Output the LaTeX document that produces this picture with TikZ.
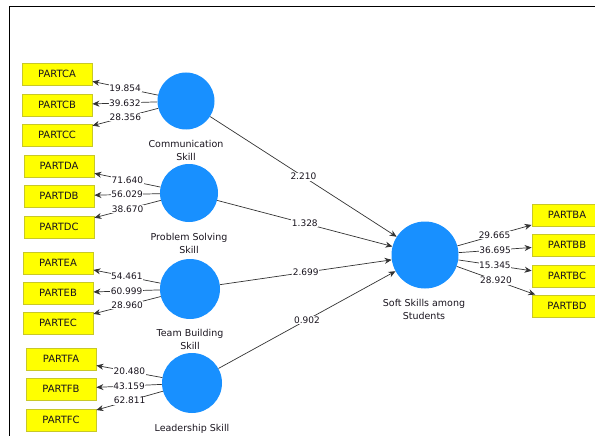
\documentclass[tikz,border=0pt]{standalone}
\usepackage{fontspec}
\setmainfont{DejaVu Sans}
\usetikzlibrary{arrows.meta}
\definecolor{lvblue}{RGB}{24,144,255}
\definecolor{indyel}{RGB}{255,255,0}
\definecolor{indbord}{RGB}{200,200,40}
\definecolor{txt}{RGB}{25,20,30}
\begin{document}
\begin{tikzpicture}[x=1pt,y=-1pt,
  indicator/.style={rectangle,fill=indyel,draw=indbord,line width=0.8pt,minimum width=70pt,minimum height=22pt,inner sep=0pt,font=\fontsize{10}{12}\selectfont,text=txt},
  latent/.style={circle,fill=lvblue,draw=none,inner sep=0pt},
  lvlabel/.style={align=center,font=\fontsize{9.5}{13}\selectfont,text=txt},
  arr/.style={draw=black!80,line width=0.7pt,-{Stealth[length=7pt,width=6pt]}},
  lbl/.style={fill=white,inner sep=0.6pt,font=\fontsize{9}{10}\selectfont,text=txt}]
\useasboundingbox (0,0) rectangle (595,436);
\draw[line width=1pt] (9,436) -- (9,7) -- (595,7);
% latent variables
\node[latent,minimum size=57pt] (comm) at (186,101) {};
\node[latent,minimum size=58pt] (prob) at (189,193) {};
\node[latent,minimum size=60pt] (team) at (190,289) {};
\node[latent,minimum size=60pt] (lead) at (192,383) {};
\node[latent,minimum size=67pt] (soft) at (425,255) {};
\node[lvlabel] (commL) at (186,150) {Communication\\Skill};
\node[lvlabel] (probL) at (189,243) {Problem Solving\\Skill};
\node[lvlabel] (teamL) at (190,339.5) {Team Building\\Skill};
\node[lvlabel] (leadL) at (192,429) {Leadership Skill};
\node[lvlabel] (softL) at (424,309) {Soft Skills among\\Students};
% indicators
\node[indicator] (ca) at (57,74) {PARTCA};
\node[indicator] (cb) at (57,105) {PARTCB};
\node[indicator] (cc) at (57,135) {PARTCC};
\node[indicator] (da) at (59,166) {PARTDA};
\node[indicator] (db) at (59,196) {PARTDB};
\node[indicator] (dc) at (59,227) {PARTDC};
\node[indicator] (ea) at (58,263) {PARTEA};
\node[indicator] (eb) at (58,293) {PARTEB};
\node[indicator] (ec) at (58,323) {PARTEC};
\node[indicator] (fa) at (61,359) {PARTFA};
\node[indicator] (fb) at (61,389) {PARTFB};
\node[indicator] (fc) at (61,420) {PARTFC};
\node[indicator] (ba) at (567,215) {PARTBA};
\node[indicator] (bb) at (567,245) {PARTBB};
\node[indicator] (bc) at (567,276) {PARTBC};
\node[indicator] (bd) at (567,306) {PARTBD};
% outer loadings
\draw[arr] (comm) -- node[lbl]{19.854} (ca);
\draw[arr] (comm) -- node[lbl]{39.632} (cb);
\draw[arr] (comm) -- node[lbl]{28.356} (cc);
\draw[arr] (prob) -- node[lbl]{71.640} (da);
\draw[arr] (prob) -- node[lbl]{56.029} (db);
\draw[arr] (prob) -- node[lbl]{38.670} (dc);
\draw[arr] (team) -- node[lbl]{54.461} (ea);
\draw[arr] (team) -- node[lbl]{60.999} (eb);
\draw[arr] (team) -- node[lbl]{28.960} (ec);
\draw[arr] (lead) -- node[lbl]{20.480} (fa);
\draw[arr] (lead) -- node[lbl]{43.159} (fb);
\draw[arr] (lead) -- node[lbl]{62.811} (fc);
\draw[arr] (soft) -- node[lbl]{29.665} (ba);
\draw[arr] (soft) -- node[lbl]{36.695} (bb);
\draw[arr] (soft) -- node[lbl]{15.345} (bc);
\draw[arr] (soft) -- node[lbl]{28.920} (bd);
% structural paths
\draw[arr] (comm) -- node[lbl]{2.210} (soft);
\draw[arr] (prob) -- node[lbl]{1.328} (soft);
\draw[arr] (team) -- node[lbl]{2.699} (soft);
\draw[arr] (lead) -- node[lbl]{0.902} (soft);
\end{tikzpicture}
\end{document}
